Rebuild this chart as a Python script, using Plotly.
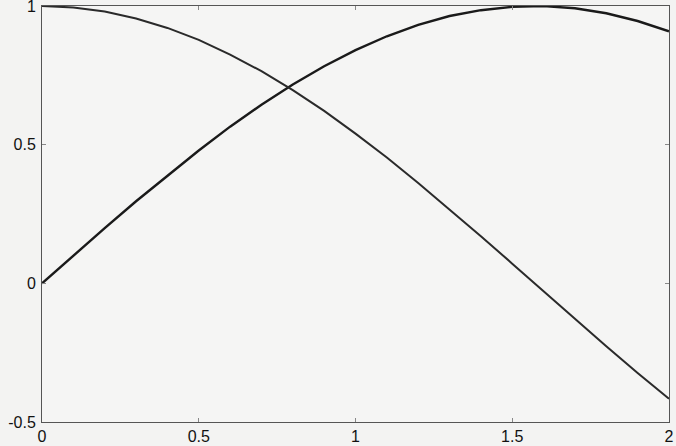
import plotly.graph_objects as go

x_vals = [0.0, 0.1, 0.2, 0.3, 0.4, 0.5, 0.6, 0.7, 0.8, 0.9, 1.0,
          1.1, 1.2, 1.3, 1.4, 1.5, 1.6, 1.7, 1.8, 1.9, 2.0]
sin_vals = [0.000, 0.100, 0.199, 0.296, 0.389, 0.479, 0.565, 0.644, 0.717, 0.783, 0.841,
            0.891, 0.932, 0.964, 0.985, 0.997, 1.000, 0.992, 0.974, 0.946, 0.909]
cos_vals = [1.000, 0.995, 0.980, 0.955, 0.921, 0.878, 0.825, 0.765, 0.697, 0.622, 0.540,
            0.454, 0.362, 0.267, 0.170, 0.071, -0.029, -0.129, -0.227, -0.323, -0.416]

x_ticks = [0, 0.5, 1, 1.5, 2]
x_tick_labels = ["0", "0.5", "1", "1.5", "2"]
y_ticks = [-0.5, 0, 0.5, 1]
y_tick_labels = ["-0.5", "0", "0.5", "1"]

fig = go.Figure()
fig.add_trace(go.Scatter(x=x_vals, y=sin_vals, mode="lines",
                         line=dict(color="#1a1a1a", width=2.4), name="sin"))
fig.add_trace(go.Scatter(x=x_vals, y=cos_vals, mode="lines",
                         line=dict(color="#2a2a2a", width=2.0), name="cos"))

axis_common = dict(showgrid=False, zeroline=False, showline=True, linecolor="#555555",
                   linewidth=1, mirror="ticks", ticks="inside", ticklen=4,
                   tickcolor="#888888", automargin=False, ticklabeloverflow="allow",
                   tickfont=dict(family="Liberation Sans, Arial", size=16, color="#111111"))

fig.update_layout(
    width=676, height=446,
    margin=dict(l=42, r=7, t=6, b=24),
    paper_bgcolor="#f3f3f2", plot_bgcolor="#f5f5f4",
    showlegend=False,
    xaxis=dict(range=[-0.0001, 2.0001], tickvals=x_ticks, ticktext=x_tick_labels,
               ticklabelstandoff=0, **axis_common),
    yaxis=dict(range=[-0.5001, 1.0001], tickvals=y_ticks, ticktext=y_tick_labels,
               ticklabelstandoff=2, **axis_common),
)

fig.write_html("out.html", config={"displayModeBar": False},
               post_script="document.body.style.margin='0';document.body.style.overflow='hidden';")
